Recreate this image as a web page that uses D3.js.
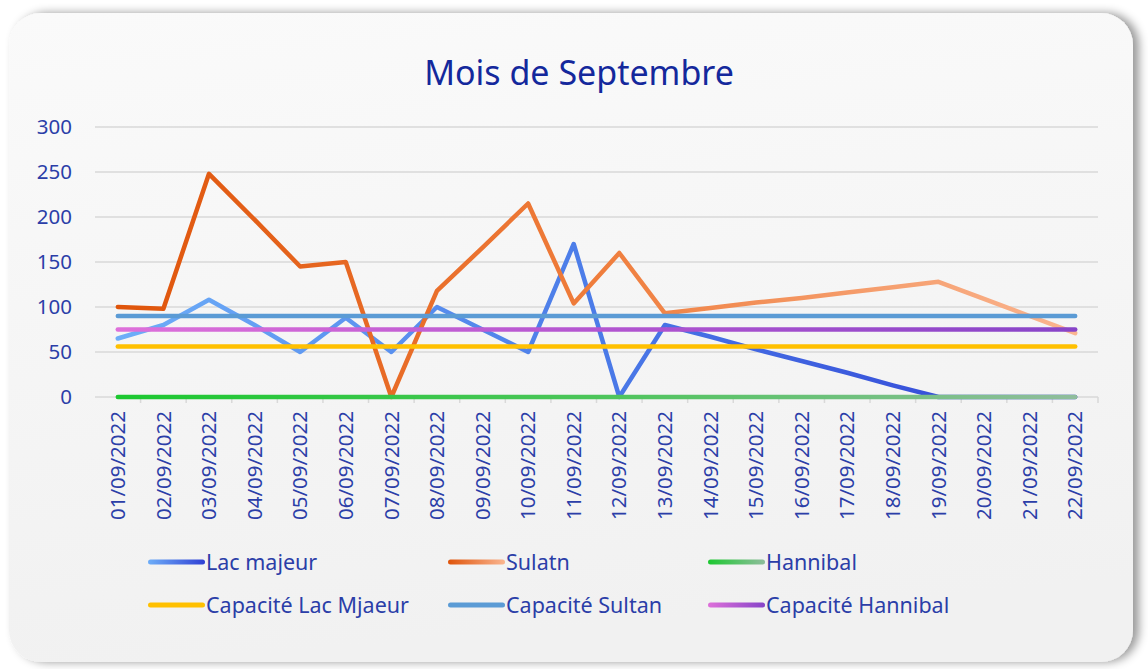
<!DOCTYPE html>
<html>
<head>
<meta charset="utf-8">
<script src="https://cdn.jsdelivr.net/npm/d3@7"></script>
<style>
  html, body { margin: 0; padding: 0; background: #ffffff; }
  svg { display: block; font-family: "Noto Sans", "Open Sans", sans-serif; }
</style>
</head>
<body>
<div id="chart"></div>
<script>
// chart data
var dates = ["01/09/2022", "02/09/2022", "03/09/2022", "04/09/2022", "05/09/2022", "06/09/2022",
             "07/09/2022", "08/09/2022", "09/09/2022", "10/09/2022", "11/09/2022", "12/09/2022",
             "13/09/2022", "14/09/2022", "15/09/2022", "16/09/2022", "17/09/2022", "18/09/2022",
             "19/09/2022", "20/09/2022", "21/09/2022", "22/09/2022"];
var lacMajeur = [65, 80, 108, 80, 50, 88, 50, 100, 75, 50, 170, 0, 80, 67, 53, 40, 27, 13, 0, 0, 0, 0];
var sulatn = [100, 98, 248, 197, 145, 150, 0, 118, 166, 215, 104, 160, 93, 99, 105, 110, 116, 122, 128, 109, 90, 71];
var hannibal = [0, 0, 0, 0, 0, 0, 0, 0, 0, 0, 0, 0, 0, 0, 0, 0, 0, 0, 0, 0, 0, 0];
var capLacMajeur = [56, 56, 56, 56, 56, 56, 56, 56, 56, 56, 56, 56, 56, 56, 56, 56, 56, 56, 56, 56, 56, 56];
var capSultan = [90, 90, 90, 90, 90, 90, 90, 90, 90, 90, 90, 90, 90, 90, 90, 90, 90, 90, 90, 90, 90, 90];
var capHannibal = [75, 75, 75, 75, 75, 75, 75, 75, 75, 75, 75, 75, 75, 75, 75, 75, 75, 75, 75, 75, 75, 75];
var yTicks = [0, 50, 100, 150, 200, 250, 300];

var series = [
  { name: "Lac majeur", values: lacMajeur, colors: ["#6eaef8", "#4b7be8", "#2f3fd4"] },
  { name: "Sulatn", values: sulatn, colors: ["#df540a", "#ef7d3c", "#fab590"] },
  { name: "Hannibal", values: hannibal, colors: ["#1cc830", "#4cc55a", "#8fbd9c"] },
  { name: "Capacité Lac Mjaeur", values: capLacMajeur, colors: ["#ffc000", "#ffc000", "#ffc000"] },
  { name: "Capacité Sultan", values: capSultan, colors: ["#5b9bd5", "#5b9bd5", "#5b9bd5"] },
  { name: "Capacité Hannibal", values: capHannibal, colors: ["#de70da", "#b355d0", "#8744c8"] }
];

var width = 1148, height = 669;
var plot = { left: 95, right: 1098, top: 127, bottom: 397 };

var svg = d3.select("#chart").append("svg")
  .attr("width", width)
  .attr("height", height);

var defs = svg.append("defs");

var shadow = defs.append("filter").attr("id", "shadow")
  .attr("x", "-5%").attr("y", "-5%").attr("width", "110%").attr("height", "110%");
shadow.append("feDropShadow")
  .attr("dx", 6).attr("dy", 0).attr("stdDeviation", 5)
  .attr("flood-color", "#000").attr("flood-opacity", 0.4);

var bg = defs.append("linearGradient").attr("id", "bg")
  .attr("x1", 0).attr("y1", 0).attr("x2", 0.15).attr("y2", 1);
bg.append("stop").attr("offset", "0%").attr("stop-color", "#fafafa");
bg.append("stop").attr("offset", "100%").attr("stop-color", "#f1f1f1");

// card
svg.append("rect")
  .attr("x", 9).attr("y", 13)
  .attr("width", 1124).attr("height", 649)
  .attr("rx", 32).attr("ry", 32)
  .attr("fill", "url(#bg)")
  .attr("filter", "url(#shadow)");

var x = d3.scaleBand().domain(dates).range([plot.left, plot.right]);
var y = d3.scaleLinear().domain([0, 300]).range([plot.bottom, plot.top]);

// gradients for the lines
series.forEach(function(s, i) {
  var g = defs.append("linearGradient").attr("id", "line" + i)
    .attr("gradientUnits", "userSpaceOnUse")
    .attr("x1", x(dates[0]) + x.bandwidth() / 2).attr("y1", 0)
    .attr("x2", x(dates[dates.length - 1]) + x.bandwidth() / 2).attr("y2", 0);
  s.colors.forEach(function(c, j) {
    g.append("stop").attr("offset", (j * 50) + "%").attr("stop-color", c);
  });
  var lg = defs.append("linearGradient").attr("id", "leg" + i);
  lg.append("stop").attr("offset", "0%").attr("stop-color", s.colors[0]);
  lg.append("stop").attr("offset", "100%").attr("stop-color", s.colors[2]);
});

// title
svg.append("text")
  .attr("x", 579).attr("y", 85)
  .attr("text-anchor", "middle")
  .style("font-size", "34px")
  .style("fill", "#14289c")
  .text("Mois de Septembre");

// gridlines
svg.append("g")
  .selectAll("line")
  .data(yTicks)
  .enter()
  .append("line")
  .attr("x1", plot.left).attr("x2", plot.right)
  .attr("y1", function(d) { return y(d); })
  .attr("y2", function(d) { return y(d); })
  .attr("stroke", "#d9d9d9")
  .attr("stroke-width", 1.5);

// y labels
svg.append("g")
  .selectAll("text")
  .data(yTicks)
  .enter()
  .append("text")
  .attr("x", 72)
  .attr("y", function(d) { return y(d); })
  .attr("dy", "0.35em")
  .attr("text-anchor", "end")
  .style("font-size", "20.5px")
  .style("fill", "#2b3ea8")
  .text(function(d) { return d; });

// x axis ticks
svg.append("g")
  .selectAll("line")
  .data(dates.slice(1).concat([null]))
  .enter()
  .append("line")
  .attr("x1", function(d, i) { return plot.left + x.step() * (i + 1); })
  .attr("x2", function(d, i) { return plot.left + x.step() * (i + 1); })
  .attr("y1", plot.bottom).attr("y2", plot.bottom + 6)
  .attr("stroke", "#d9d9d9")
  .attr("stroke-width", 1.5);

svg.append("g")
  .selectAll("text")
  .data(dates)
  .enter()
  .append("text")
  .attr("transform", function(d) {
    return "translate(" + (x(d) + x.bandwidth() / 2) + "," + (plot.bottom + 14) + ") rotate(-90)";
  })
  .attr("dy", "0.35em")
  .attr("text-anchor", "end")
  .style("font-size", "20.5px")
  .style("fill", "#2b3ea8")
  .text(function(d) { return d; });

// lines
var line = d3.line()
  .x(function(d, i) { return x(dates[i]) + x.bandwidth() / 2; })
  .y(function(d) { return y(d); });

svg.append("g")
  .selectAll("path")
  .data(series)
  .enter()
  .append("path")
  .attr("d", function(d) { return line(d.values); })
  .attr("fill", "none")
  .attr("stroke", function(d, i) { return "url(#line" + i + ")"; })
  .attr("stroke-width", 4.5)
  .attr("stroke-linecap", "round")
  .attr("stroke-linejoin", "round");

// legend
var legendCols = [148, 448, 708];
var legendRows = [562, 605];
var legend = svg.append("g")
  .selectAll("g")
  .data(series)
  .enter()
  .append("g")
  .attr("transform", function(d, i) {
    return "translate(" + legendCols[i % 3] + "," + legendRows[Math.floor(i / 3)] + ")";
  });
legend.append("rect")
  .attr("x", 0).attr("y", -2.5)
  .attr("width", 57).attr("height", 5)
  .attr("rx", 2.5)
  .attr("fill", function(d, i) { return "url(#leg" + i + ")"; });
legend.append("text")
  .attr("x", 58)
  .attr("dy", "0.35em")
  .style("font-size", "21.5px")
  .style("fill", "#2b3ea8")
  .text(function(d) { return d.name; });
</script>
</body>
</html>
